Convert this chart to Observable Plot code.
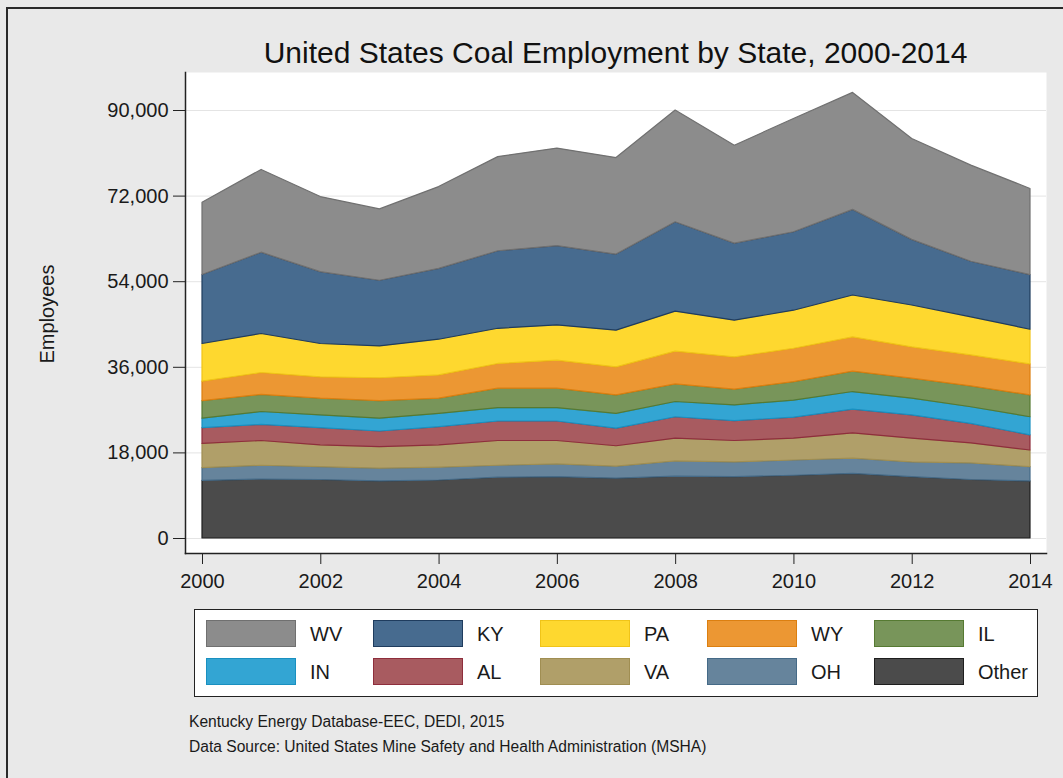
<!DOCTYPE html>
<html>
<head>
<meta charset="utf-8">
<script src="https://cdn.jsdelivr.net/npm/d3@7"></script>
<script src="https://cdn.jsdelivr.net/npm/@observablehq/plot@0.6"></script>
<style>
  html, body { margin:0; padding:0; }
  body { width:1063px; height:778px; background:#e9e9e9; position:relative; overflow:hidden;
         font-family:"Liberation Sans", Arial, sans-serif; color:#222; }
  #border { position:absolute; left:6px; top:7px; width:1100px; height:800px;
            border-left:2px solid #2a2a2a; border-top:2px solid #2a2a2a; }
  #title { position:absolute; left:185px; width:861px; top:38px; font-size:30px; line-height:30px;
           text-align:center; color:#111; }
  #ylabel { position:absolute; left:47px; top:314px; font-size:20px; line-height:20px; white-space:nowrap;
            transform:translate(-50%,-50%) rotate(-90deg); color:#1a1a1a; }
  #chart { position:absolute; left:0; top:0; }
  #legend { position:absolute; left:194px; top:609px; width:842px; height:86px; background:#fff;
            border:1.5px solid #222; }
  .sw { position:absolute; width:88px; height:25px; }
  .lb { position:absolute; font-size:20px; line-height:20px; color:#1a1a1a; }
  .cap { position:absolute; left:189px; font-size:15.6px; line-height:15px; color:#1a1a1a; white-space:nowrap; }
</style>
</head>
<body>
<div id="border"></div>
<div id="title">United States Coal Employment by State, 2000-2014</div>
<div id="ylabel">Employees</div>
<div id="chart"></div>
<div id="legend"></div>
<div class="cap" style="top:714px">Kentucky Energy Database-EEC, DEDI, 2015</div>
<div class="cap" style="top:739px">Data Source: United States Mine Safety and Health Administration (MSHA)</div>
<script>
// ---- data (employees per state) ----
const years = [2000,2001,2002,2003,2004,2005,2006,2007,2008,2009,2010,2011,2012,2013,2014];
const Other = [12100,12400,12300,12000,12200,12800,12900,12600,13000,12900,13200,13600,12900,12300,12000];
const OH    = [ 2700, 2900, 2700, 2700, 2700, 2500, 2700, 2500, 3200, 3100, 3200, 3200, 3100, 3500, 3000];
const VA    = [ 5100, 5200, 4600, 4500, 4700, 5200, 4900, 4300, 4800, 4500, 4600, 5300, 5000, 4200, 3500];
const AL    = [ 3300, 3400, 3600, 3300, 3800, 4100, 4100, 3700, 4500, 4200, 4400, 5000, 4900, 4100, 3200];
const IN    = [ 2000, 2700, 2700, 2700, 2800, 2800, 2800, 3100, 3200, 3300, 3600, 3700, 3500, 3500, 3800];
const IL    = [ 3700, 3600, 3500, 3700, 3200, 4100, 4100, 3900, 3700, 3300, 3900, 4300, 4200, 4400, 4600];
const WY    = [ 4100, 4600, 4500, 4800, 4900, 5200, 5900, 5900, 6900, 6800, 7000, 7200, 6600, 6500, 6500];
const PA    = [ 7900, 8200, 7000, 6700, 7500, 7400, 7400, 7700, 8400, 7700, 8000, 8800, 8800, 8000, 7300];
const KY    = [14500,17100,15100,13800,14900,16300,16700,16000,18800,16200,16500,18000,13800,11700,11500];
const WV    = [15200,17400,15800,15000,17200,19800,20500,20300,23500,20600,23800,24600,21200,20200,18100];

// stacking order, bottom to top
const states = ["Other","OH","VA","AL","IN","IL","WY","PA","KY","WV"];
const series = {Other, OH, VA, AL, IN, IL, WY, PA, KY, WV};
// legend order
const legendOrder = ["WV","KY","PA","WY","IL","IN","AL","VA","OH","Other"];
const yTicks = [0,18000,36000,54000,72000,90000];
const xTicks = [2000,2002,2004,2006,2008,2010,2012,2014];

// ---- styles ----
const fills   = {WV:"#8c8c8c", KY:"#476b8f", PA:"#fed82f", WY:"#ec9733", IL:"#78955a",
                 IN:"#33a5d3", AL:"#a85b60", VA:"#b09f69", OH:"#66849c", Other:"#4b4b4b"};
const strokes = {WV:"#707070", KY:"#1f3c5e", PA:"#f0c418", WY:"#dc7f10", IL:"#567a32",
                 IN:"#1990c0", AL:"#8e2e3c", VA:"#a08e52", OH:"#456a87", Other:"#1e1e1e"};

const data = states.flatMap(s => years.map((yr, i) => ({year: yr, state: s, value: series[s][i]})));

const chart = Plot.plot({
  width: 1063, height: 600,
  marginLeft: 185, marginRight: 17, marginTop: 72, marginBottom: 47,
  x: {domain: [2000, 2014], insetLeft: 17, insetRight: 16},
  y: {domain: [0, 90000], insetTop: 38, insetBottom: 15},
  color: {type: "identity"},
  style: {background: "transparent", fontFamily: "'Liberation Sans', Arial, sans-serif", fontSize: "20px", color: "#1a1a1a"},
  marks: [
    Plot.frame({fill: "white", stroke: "none"}),
    Plot.gridY(yTicks, {stroke: "#e4e4e4", strokeOpacity: 1}),
    Plot.areaY(data, {x: "year", y: "value", z: "state", order: states,
      fill: d => fills[d.state], stroke: d => strokes[d.state], strokeWidth: 1.2, fillOpacity: 1}),
    Plot.frame({anchor: "left", stroke: "#222", strokeWidth: 1.5}),
    Plot.frame({anchor: "bottom", stroke: "#222", strokeWidth: 1.5}),
    Plot.axisY({ticks: yTicks, tickFormat: d3.format(","), tickSize: 12, tickPadding: 5, label: null, fontSize: 20, stroke: "#222"}),
    Plot.axisX({ticks: xTicks, tickFormat: d => String(d), tickSize: 11, tickPadding: 9, label: null, fontSize: 20, stroke: "#222"})
  ]
});
document.getElementById("chart").appendChild(chart);

// ---- legend ----
const legend = document.getElementById("legend");
legendOrder.forEach((s, i) => {
  const col = i % 5, row = Math.floor(i / 5);
  const left = 11 + col * 167, top = 10 + row * 38;
  const sw = document.createElement("div");
  sw.className = "sw";
  sw.style.left = left + "px"; sw.style.top = top + "px";
  sw.style.background = fills[s]; sw.style.border = "1.5px solid " + strokes[s];
  legend.appendChild(sw);
  const lb = document.createElement("div");
  lb.className = "lb";
  lb.style.left = (left + 104) + "px"; lb.style.top = (top + 4) + "px";
  lb.textContent = s;
  legend.appendChild(lb);
});
</script>
</body>
</html>
